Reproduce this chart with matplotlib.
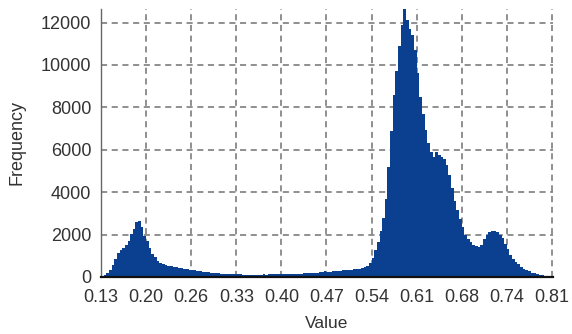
import numpy as np
import matplotlib
matplotlib.use('Agg')
import matplotlib.pyplot as plt

plt.rcParams['font.family'] = 'Liberation Sans'

# histogram counts (bins of 0.004 from 0.13 to 0.81)
counts = [
    20, 90, 200, 350, 560, 850, 1120, 1250, 1380, 1500,
    1700, 2050, 2280, 2580, 2640, 2350, 1950, 1680, 1350, 1100,
    920, 760, 650, 620, 560, 540, 500, 470, 450, 440,
    420, 400, 380, 350, 330, 310, 300, 270, 250, 230,
    220, 200, 190, 180, 170, 160, 150, 150, 140, 130,
    130, 120, 120, 110, 110, 110, 100, 110, 100, 110,
    110, 120, 110, 120, 120, 130, 120, 130, 130, 140,
    130, 140, 140, 150, 150, 160, 170, 170, 180, 190,
    200, 200, 220, 230, 300, 240, 250, 270, 280, 290,
    300, 310, 320, 340, 350, 370, 380, 400, 430, 460,
    520, 650, 900, 1250, 1650, 2150, 2800, 3700, 5200, 6900,
    8600, 9700, 10900, 11900, 12650, 12100, 11700, 11400, 10700, 9600,
    8500, 7700, 6950, 6300, 5900, 5650, 5900, 5750, 5650, 5550,
    5300, 4800, 4200, 3600, 3150, 2750, 2350, 2000, 1800, 1650,
    1520, 1450, 1400, 1500, 1800, 2000, 2100, 2180, 2150, 2100,
    1980, 1850, 1550, 1300, 1050, 850, 700, 600, 480, 390,
    330, 260, 210, 170, 130, 100, 80, 50, 30, 15,
]
x_min, x_max = 0.13, 0.81
tick_labels = ['0.13', '0.20', '0.26', '0.33', '0.40', '0.47',
               '0.54', '0.61', '0.68', '0.74', '0.81']
y_ticks = [0, 2000, 4000, 6000, 8000, 10000, 12000]

edges = np.linspace(x_min, x_max, len(counts) + 1)
# repeat the last count so the final step is drawn to the right edge
heights = np.append(counts, counts[-1])

fig = plt.figure(figsize=(5.72, 3.34), dpi=100)
ax = fig.add_axes([0.1766, 0.1707, 0.790, 0.803])

ax.fill_between(edges, heights, step='post', color='#0b3f8f',
                linewidth=0, antialiased=False)

ax.set_xlim(x_min, x_max + 0.0015)
ax.set_ylim(0, 12650)
ax.set_xticks(np.linspace(x_min, x_max, len(tick_labels)))
ax.set_xticklabels(tick_labels)
ax.set_yticks(y_ticks)

ax.set_axisbelow(True)
ax.grid(True, color='#727272', linestyle=(0, (4, 3)), linewidth=1.1)

ax.tick_params(length=0, labelsize=13, colors='#333333', pad=7)
ax.tick_params(axis='x', pad=9)

for s in ['top', 'right']:
    ax.spines[s].set_visible(False)
ax.spines['left'].set_color('#666666')
ax.spines['left'].set_linewidth(1.0)
ax.spines['bottom'].set_color('#111111')
ax.spines['bottom'].set_linewidth(1.6)
ax.spines['bottom'].set_zorder(5)

ax.set_ylabel('Frequency', fontsize=13, color='#333333')
ax.yaxis.set_label_coords(-0.168, 0.5)
ax.set_xlabel('Value', fontsize=12.5, color='#333333')
ax.xaxis.set_label_coords(0.5, -0.145)

plt.savefig('out.png', dpi=100)
